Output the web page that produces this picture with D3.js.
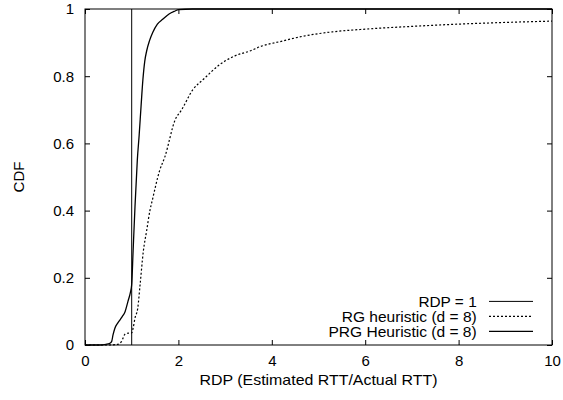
<!DOCTYPE html>
<html>
<head>
<meta charset="utf-8">
<script src="https://cdn.jsdelivr.net/npm/d3@7"></script>
<style>
  html, body { margin: 0; padding: 0; background: #fff; }
  svg { display: block; }
  text { font-family: "Liberation Sans", Arial, Helvetica, sans-serif; fill: #000; }
</style>
</head>
<body>
<svg id="chart" width="563" height="400"></svg>
<script>
// ---- data ----
const xTicks = [0, 2, 4, 6, 8, 10];
const yTicks = [0, 0.2, 0.4, 0.6, 0.8, 1];
const yTickLabels = ["0", "0.2", "0.4", "0.6", "0.8", "1"];
const xLabel = "RDP (Estimated RTT/Actual RTT)";
const yLabel = "CDF";
const seriesNames = ["RDP = 1", "RG heuristic (d = 8)", "PRG Heuristic (d = 8)"];

const rdpOneX = [1, 1];
const rdpOneY = [0, 1];

const rgX = [0.0, 0.5, 0.7, 0.78, 0.86, 0.9, 1.0, 1.03, 1.07, 1.13, 1.18, 1.25, 1.32, 1.39, 1.44, 1.6, 1.71, 1.93, 2.07, 2.31, 2.53, 2.89, 3.2, 3.53, 3.75, 4.24, 4.6, 5.3, 6.0, 7.1, 8.0, 9.0, 10.0];
const rgY = [0.0, 0.0, 0.002, 0.01, 0.033, 0.035, 0.036, 0.05, 0.08, 0.11, 0.18, 0.28, 0.34, 0.40, 0.43, 0.52, 0.56, 0.67, 0.70, 0.76, 0.79, 0.835, 0.86, 0.875, 0.888, 0.905, 0.917, 0.932, 0.94, 0.949, 0.955, 0.96, 0.964];

const prgX = [0.0, 0.3, 0.45, 0.53, 0.57, 0.6, 0.64, 0.7, 0.75, 0.8, 0.86, 0.92, 0.97, 1.0, 1.03, 1.07, 1.12, 1.16, 1.2, 1.24, 1.28, 1.32, 1.38, 1.45, 1.55, 1.67, 1.8, 1.93, 2.0, 2.3, 10.0];
const prgY = [0.0, 0.0, 0.002, 0.005, 0.01, 0.03, 0.05, 0.065, 0.075, 0.085, 0.10, 0.13, 0.155, 0.18, 0.28, 0.41, 0.55, 0.625, 0.71, 0.79, 0.845, 0.875, 0.905, 0.93, 0.955, 0.97, 0.985, 0.994, 0.998, 1.0, 1.0];

// ---- layout ----
const L = 85, R = 552, T = 9, B = 345;
const fontSize = 15;
const svg = d3.select("#chart");

const x = d3.scaleLinear().domain([0, 10]).range([L, R]);
const y = d3.scaleLinear().domain([0, 1]).range([B, T]);

const tickLen = 5;

// axes (inward ticks, mirrored)
const gx = svg.append("g").attr("transform", `translate(0,${B})`)
  .call(d3.axisBottom(x).tickValues(xTicks).tickSize(-tickLen).tickPadding(10).tickFormat(d3.format("d")));
const gxTop = svg.append("g").attr("transform", `translate(0,${T})`)
  .call(d3.axisTop(x).tickValues(xTicks).tickSize(-tickLen).tickFormat(""));
const gy = svg.append("g").attr("transform", `translate(${L},0)`)
  .call(d3.axisLeft(y).tickValues(yTicks).tickSize(-tickLen).tickPadding(11).tickFormat((d, i) => yTickLabels[i]));
const gyR = svg.append("g").attr("transform", `translate(${R},0)`)
  .call(d3.axisRight(y).tickValues(yTicks).tickSize(-tickLen).tickFormat(""));

[gx, gxTop, gy, gyR].forEach(g => {
  g.select(".domain").remove();
  g.selectAll(".tick line").attr("stroke", "#000").attr("stroke-width", 1);
  g.selectAll(".tick text").attr("font-size", fontSize).attr("font-family", null).attr("fill", "#000");
});
gx.selectAll(".tick text").attr("dy", "0.71em");

// border
svg.append("rect")
  .attr("x", L).attr("y", T).attr("width", R - L).attr("height", B - T)
  .attr("fill", "none").attr("stroke", "#000").attr("stroke-width", 1);

// axis labels
svg.append("text")
  .attr("x", (L + R) / 2).attr("y", 385)
  .attr("text-anchor", "middle").attr("font-size", fontSize)
  .attr("textLength", 238).attr("lengthAdjust", "spacingAndGlyphs")
  .text(xLabel);
svg.append("text")
  .attr("transform", `translate(24,${(T + B) / 2}) rotate(-90)`)
  .attr("text-anchor", "middle").attr("font-size", fontSize)
  .text(yLabel);

// series
const lineStraight = d3.line().x(d => x(d[0])).y(d => y(d[1]));
const lineSmooth = d3.line().x(d => x(d[0])).y(d => y(d[1])).curve(d3.curveMonotoneX);
const styles = [
  { w: 1, dash: null },
  { w: 1.2, dash: "2,2" },
  { w: 1.3, dash: null }
];
const series = [
  d3.zip(rdpOneX, rdpOneY),
  d3.zip(rgX, rgY),
  d3.zip(prgX, prgY)
];
const plot = svg.append("g");
series.forEach((s, i) => {
  plot.append("path")
    .datum(s)
    .attr("d", i === 0 ? lineStraight : lineSmooth)
    .attr("fill", "none")
    .attr("stroke", "#000")
    .attr("stroke-width", styles[i].w)
    .attr("stroke-dasharray", styles[i].dash);
});

// legend
const legBase = [306.7, 321.7, 336.7];
const legWidths = [58.3, 135, 148.3];
seriesNames.forEach((name, i) => {
  svg.append("text")
    .attr("x", 476.7).attr("y", legBase[i])
    .attr("text-anchor", "end").attr("font-size", 14)
    .attr("textLength", legWidths[i]).attr("lengthAdjust", "spacingAndGlyphs")
    .text(name);
  svg.append("line")
    .attr("x1", 489).attr("x2", 533)
    .attr("y1", legBase[i] - 5.3).attr("y2", legBase[i] - 5.3)
    .attr("stroke", "#000")
    .attr("stroke-width", styles[i].w)
    .attr("stroke-dasharray", styles[i].dash);
});
</script>
</body>
</html>
